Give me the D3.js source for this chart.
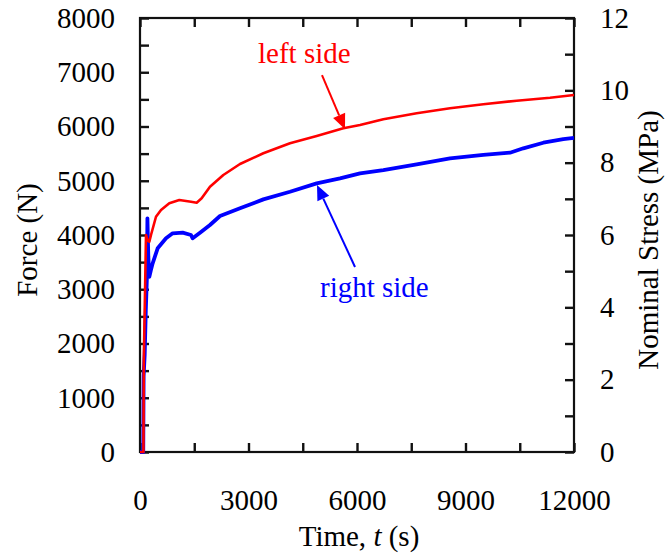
<!DOCTYPE html>
<html>
<head>
<meta charset="utf-8">
<script src="https://cdn.jsdelivr.net/npm/d3@7"></script>
<style>
  html, body { margin: 0; padding: 0; background: #fff; }
  svg text { font-family: "Liberation Serif", "Times New Roman", Times, serif; }
</style>
</head>
<body>
<svg id="chart" width="666" height="557"></svg>
<script>
// Time (s) and force (N) for the left-side load cell
const timeLeft  = [0, 95, 105, 140, 166, 210, 258, 304, 442, 581, 810, 1087, 1410, 1567, 1705, 1935, 2304, 2765, 3410, 4147, 4885, 5622, 6083, 6728, 7650, 8571, 9493, 10415, 11336, 12000];
const forceLeft = [0, 0, 1700, 3000, 4000, 3900, 3877, 4000, 4337, 4460, 4584, 4645, 4614, 4596, 4676, 4891, 5106, 5309, 5506, 5690, 5825, 5967, 6028, 6133, 6243, 6335, 6409, 6476, 6531, 6581];

// Time (s) and force (N) for the right-side load cell
const timeRight  = [0, 90, 100, 130, 160, 190, 205, 230, 258, 300, 350, 488, 719, 903, 1180, 1410, 1456, 1659, 1935, 2212, 2765, 3410, 4147, 4885, 5530, 6083, 6728, 7650, 8571, 9493, 10230, 10599, 11152, 11705, 12000];
const forceRight = [0, 0, 1400, 1800, 2600, 3200, 4307, 3600, 3230, 3350, 3478, 3755, 3939, 4031, 4043, 4000, 3939, 4043, 4184, 4350, 4492, 4657, 4798, 4952, 5044, 5136, 5198, 5303, 5413, 5475, 5517, 5598, 5701, 5769, 5790];

// Axis tick values
const timeTicks   = [0, 1500, 3000, 4500, 6000, 7500, 9000, 10500, 12000];
const forceTicks  = [0, 500, 1000, 1500, 2000, 2500, 3000, 3500, 4000, 4500, 5000, 5500, 6000, 6500, 7000, 7500, 8000];
const stressTicks = [0, 1, 2, 3, 4, 5, 6, 7, 8, 9, 10, 11, 12];

// Annotations: label anchor and arrow (from -> to) in data units
const annotations = [
  { text: "left side",  color: "#ff0000", label: [3263, 7170], from: [5032, 6949], to: [5668, 5950] },
  { text: "right side", color: "#0000ff", label: [4977, 2857], from: [5945, 3410], to: [4894, 4922] }
];

const FONT = 29;
const plot = { left: 140, right: 574, top: 18, bottom: 452 };

const svg = d3.select("#chart");

const x  = d3.scaleLinear().domain([0, 12000]).range([plot.left, plot.right]);
const yF = d3.scaleLinear().domain([0, 8000]).range([plot.bottom, plot.top]);
const yS = d3.scaleLinear().domain([0, 12]).range([plot.bottom, plot.top]);
const plain = d3.format("d");

function styleAxis(g, len) {
  g.select(".domain").remove();
  g.selectAll(".tick line")
    .style("stroke", "#111").style("stroke-width", "2.4px");
  g.selectAll(".tick text").attr("fill", "#000").style("font-size", FONT + "px")
    .style("font-family", '"Liberation Serif", "Times New Roman", serif');
}

// Left: force ticks every 500 N, labels every 1000 N, marks pointing inward
const gL = svg.append("g").attr("transform", `translate(${plot.left},0)`)
  .call(d3.axisLeft(yF).tickValues(forceTicks)
    .tickFormat(d => d % 1000 === 0 ? plain(d) : "")
    .tickSize(-9).tickPadding(25));
styleAxis(gL);

// Right: nominal stress ticks every 1 MPa, labels every 2 MPa
const gR = svg.append("g").attr("transform", `translate(${plot.right},0)`)
  .call(d3.axisRight(yS).tickValues(stressTicks)
    .tickFormat(d => d % 2 === 0 ? plain(d) : "")
    .tickSize(-9).tickPadding(26));
styleAxis(gR);

// Bottom: time ticks every 1500 s, labels every 3000 s
const gB = svg.append("g").attr("transform", `translate(0,${plot.bottom})`)
  .call(d3.axisBottom(x).tickValues(timeTicks)
    .tickFormat(d => d % 3000 === 0 ? plain(d) : "")
    .tickSize(-9).tickPadding(37));
styleAxis(gB);

// Top: unlabeled ticks
const gT = svg.append("g").attr("transform", `translate(0,${plot.top})`)
  .call(d3.axisTop(x).tickValues(timeTicks).tickFormat(() => "")
    .tickSize(-9));
styleAxis(gT);

// Frame
svg.append("rect")
  .attr("x", plot.left).attr("y", plot.top)
  .attr("width", plot.right - plot.left).attr("height", plot.bottom - plot.top)
  .attr("fill", "none").attr("stroke", "#111").attr("stroke-width", 2.2);

// Data lines
const line = d3.line().x(d => x(d[0])).y(d => yF(d[1]));
svg.append("clipPath").attr("id", "plotclip")
  .append("rect").attr("x", plot.left - 2).attr("y", plot.top)
  .attr("width", plot.right - plot.left + 4).attr("height", plot.bottom - plot.top + 2);

svg.append("path")
  .datum(d3.zip(timeRight, forceRight))
  .attr("clip-path", "url(#plotclip)")
  .attr("fill", "none").attr("stroke", "#0000ff").attr("stroke-width", 3.8)
  .attr("stroke-linejoin", "round")
  .attr("d", line);

svg.append("path")
  .datum(d3.zip(timeLeft, forceLeft))
  .attr("clip-path", "url(#plotclip)")
  .attr("fill", "none").attr("stroke", "#ff0000").attr("stroke-width", 2.6)
  .attr("stroke-linejoin", "round")
  .attr("d", line);

// Annotations with arrows
annotations.forEach(a => {
  const x0 = x(a.from[0]), y0 = yF(a.from[1]);
  const x1 = x(a.to[0]),   y1 = yF(a.to[1]);
  const ang = Math.atan2(y1 - y0, x1 - x0);
  const headLen = 15, headHalf = 6.5;
  const bx = x1 - headLen * Math.cos(ang), by = y1 - headLen * Math.sin(ang);
  svg.append("line")
    .attr("x1", x0).attr("y1", y0).attr("x2", bx).attr("y2", by)
    .attr("stroke", a.color).attr("stroke-width", 2);
  const px = -Math.sin(ang), py = Math.cos(ang);
  svg.append("polygon")
    .attr("points", [[x1, y1], [bx + px * headHalf, by + py * headHalf], [bx - px * headHalf, by - py * headHalf]].map(p => p.join(",")).join(" "))
    .attr("fill", a.color);
  svg.append("text")
    .attr("x", x(a.label[0])).attr("y", yF(a.label[1]))
    .attr("fill", a.color).style("font-size", FONT + "px")
    .text(a.text);
});

// Axis titles
const midY = (plot.top + plot.bottom) / 2 + 5;
svg.append("text")
  .attr("transform", `translate(37,${midY}) rotate(-90)`)
  .attr("text-anchor", "middle").style("font-size", FONT + "px")
  .text("Force (N)");

svg.append("text")
  .attr("transform", `translate(658,${midY}) rotate(-90)`)
  .attr("text-anchor", "middle").style("font-size", FONT + "px")
  .text("Nominal Stress (MPa)");

const tt = svg.append("text")
  .attr("x", (plot.left + plot.right) / 2 + 2).attr("y", 546)
  .attr("text-anchor", "middle").style("font-size", FONT + "px");
tt.append("tspan").text("Time, ");
tt.append("tspan").style("font-style", "italic").text("t");
tt.append("tspan").text(" (s)");
</script>
</body>
</html>
